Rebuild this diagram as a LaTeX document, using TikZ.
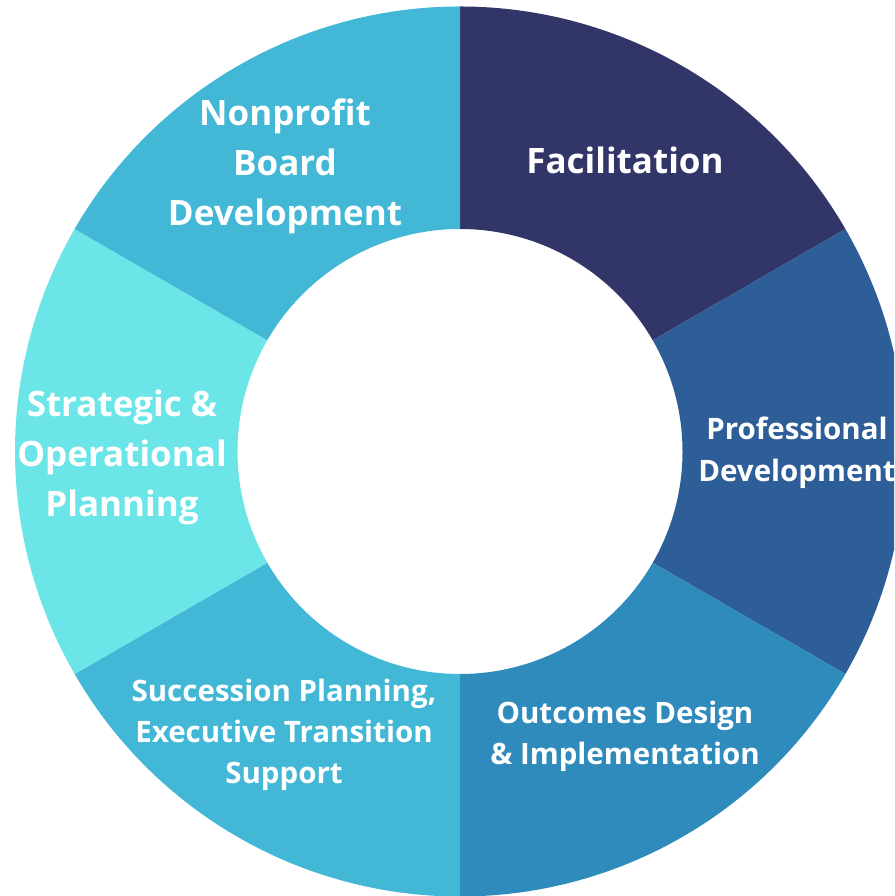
\documentclass[tikz,border=0pt]{standalone}
\usepackage{fontspec}
\setmainfont{Open Sans}
\definecolor{cFac}{HTML}{323568}
\definecolor{cPro}{HTML}{2E5E98}
\definecolor{cOut}{HTML}{2E8BBB}
\definecolor{cSuc}{HTML}{42B7D6}
\definecolor{cStr}{HTML}{6BE5E8}
\definecolor{cNon}{HTML}{42B7D6}
\tikzset{
  lbl/.style={text=white, font=\bfseries, align=center, inner sep=0pt},
  big/.style={lbl, font=\fontsize{35}{50}\selectfont\bfseries},
  small/.style={lbl, font=\fontsize{29.5}{41}\selectfont\bfseries},
}
\newcommand{\seg}[3]{\fill[#3] (#1:445) arc[start angle=#1,end angle=#2,radius=445] -- (#2:222.5) arc[start angle=#2,end angle=#1,radius=222.5] -- cycle;}
\begin{document}
\begin{tikzpicture}[x=1pt,y=1pt]
\useasboundingbox (0,0) rectangle (894,896);
\clip (0,0) rectangle (894,896);
\begin{scope}[shift={(460,444.5)}]
\seg{30}{90}{cFac}
\seg{-30}{30}{cPro}
\seg{-90}{-30}{cOut}
\seg{210}{270}{cSuc}
\seg{150}{210}{cStr}
\seg{90}{150}{cNon}
\end{scope}
\node[big] (fac) at (625,736) {Facilitation};
\node[big] (non) at (285,730) {Nonprofit\\Board\\Development};
\node[big] (str) at (122,439) {Strategic \&\\Operational\\Planning};
\node[small, font=\fontsize{29.5}{42}\selectfont\bfseries] (pro) at (797,443.5) {Professional\\Development};
\node[small] (suc) at (284,161) {Succession Planning,\\Executive Transition\\Support};
\node[small] (out) at (625,160) {Outcomes Design\\\& Implementation};
\end{tikzpicture}
\end{document}
